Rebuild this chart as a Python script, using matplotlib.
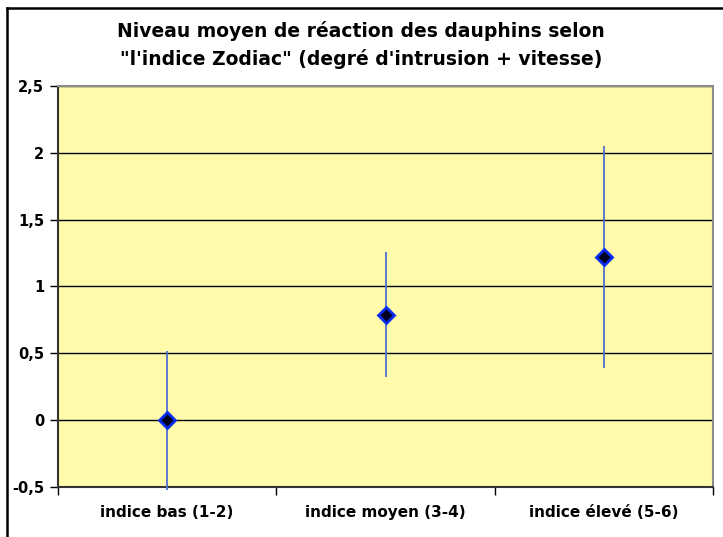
import numpy as np
import matplotlib.pyplot as plt
from matplotlib.lines import Line2D
from matplotlib.ticker import FuncFormatter

W, H = 723, 537

# data
categories = ["indice bas (1-2)", "indice moyen (3-4)", "indice élevé (5-6)"]
means = [0.0, 0.79, 1.22]
errors = [0.52, 0.47, 0.83]
yticks = [-0.5, 0, 0.5, 1, 1.5, 2, 2.5]

title = ("Niveau moyen de réaction des dauphins selon\n"
         "\"l'indice Zodiac\" (degré d'intrusion + vitesse)")

fig = plt.figure(figsize=(W / 100, H / 100), dpi=100)
ax = fig.add_axes([58 / W, 1 - 487 / H, 655 / W, 401 / H])
ax.set_facecolor("#FFFBAA")

x = np.arange(len(categories)) + 0.5

ax.errorbar(x, means, yerr=errors, fmt="none", ecolor="#4f6fd0",
            elinewidth=1.3, capsize=0, clip_on=False, zorder=3)
ax.plot(x, means, linestyle="none", marker="D", markersize=8,
        markerfacecolor="#000020", markeredgecolor="#0a2cf0",
        markeredgewidth=2, clip_on=False, zorder=4)

ax.set_xlim(0, 3)
ax.set_ylim(-0.5, 2.5)
ax.set_yticks(yticks)
ax.yaxis.set_major_formatter(FuncFormatter(lambda v, p: f"{v:g}".replace(".", ",")))

ax.set_xticks([0, 1, 2, 3])
ax.set_xticklabels([])
ax.set_xticks(x, minor=True)
ax.set_xticklabels(categories, minor=True)
ax.tick_params(axis="x", which="minor", length=0, pad=13)
ax.tick_params(axis="x", which="major", length=6, width=1, color="black", direction="out")
ax.tick_params(axis="y", length=6, width=1, direction="out", pad=4)

for lab in ax.get_xticklabels(minor=True):
    lab.set_fontweight("bold")
    lab.set_fontsize(11)
for lab in ax.get_yticklabels():
    lab.set_fontweight("bold")
    lab.set_fontsize(10.5)

ax.grid(axis="y", color="black", linewidth=1, zorder=1)
ax.set_axisbelow(True)

ax.spines["top"].set_color("#8c8c8c")
ax.spines["right"].set_color("#8c8c8c")
ax.spines["top"].set_linewidth(1.5)
ax.spines["right"].set_linewidth(1.5)
ax.spines["left"].set_color("#333333")
ax.spines["bottom"].set_color("#333333")
ax.spines["left"].set_linewidth(1.5)
ax.spines["bottom"].set_linewidth(1.5)

fig.text(361 / W, 1 - 45 / H, title, ha="center", va="center",
         fontsize=13.5, fontweight="bold", linespacing=1.45)

# outer chart frame (only top and left visible)
fig.add_artist(Line2D([7 / W, 7 / W], [0, 1 - 8 / H], color="black", linewidth=1.8))
fig.add_artist(Line2D([7 / W, 1], [1 - 8 / H, 1 - 8 / H], color="black", linewidth=1.8))

fig.savefig("out.png", dpi=100)
